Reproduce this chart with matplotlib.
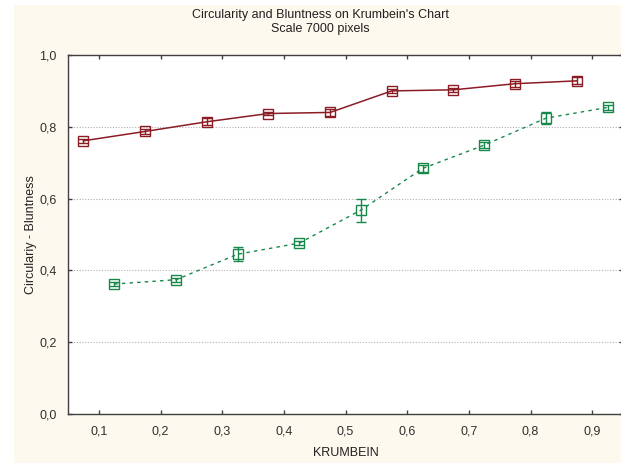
import matplotlib
matplotlib.use("Agg")
import matplotlib.pyplot as plt
from matplotlib.patches import Rectangle
from matplotlib.ticker import FuncFormatter

# ── Data ─────────────────────────────────────────────────────────────────────

circ_x = [0.075, 0.175, 0.275, 0.375, 0.475, 0.575, 0.675, 0.775, 0.875]
circ_y = [0.761, 0.787, 0.814, 0.837, 0.840, 0.900, 0.903, 0.920, 0.928]
circ_err = [0.005, 0.008, 0.010, 0.005, 0.010, 0.006, 0.005, 0.008, 0.010]

blunt_x = [0.125, 0.225, 0.325, 0.425, 0.525, 0.625, 0.725, 0.825, 0.925]
blunt_y = [0.362, 0.374, 0.445, 0.476, 0.568, 0.684, 0.749, 0.824, 0.854]
blunt_err = [0.005, 0.005, 0.019, 0.006, 0.032, 0.010, 0.008, 0.016, 0.006]

x_ticks = [0.1, 0.2, 0.3, 0.4, 0.5, 0.6, 0.7, 0.8, 0.9]
y_ticks = [0.0, 0.2, 0.4, 0.6, 0.8, 1.0]

RED = "#8c1c24"
GREEN = "#17884a"
CREAM = "#fef9ee"

plt.rcParams["font.family"] = ["Liberation Sans", "DejaVu Sans"]

fig = plt.figure(figsize=(6.21, 4.63), dpi=100)
fig.patch.set_facecolor("white")
fig.patches.append(Rectangle((14 / 621, 0), 1, 458 / 463, transform=fig.transFigure,
                             facecolor=CREAM, edgecolor="none", zorder=-10))

ax = fig.add_axes([68 / 621, 49 / 463, 555 / 621, 359 / 463])
ax.set_facecolor("white")

ax.errorbar(circ_x, circ_y, yerr=circ_err, color=RED, lw=1.1, ls="-",
            marker="s", ms=6.5, mfc="none", mec=RED, mew=1.0,
            capsize=3.5, elinewidth=1.0, capthick=1.0)
ax.errorbar(blunt_x, blunt_y, yerr=blunt_err, color=GREEN, lw=1.0, ls=(0, (2.5, 3)),
            marker="s", ms=6.5, mfc="none", mec=GREEN, mew=1.0,
            capsize=3.5, elinewidth=1.0, capthick=1.0)

ax.set_xlim(0.05, 0.95)
ax.set_ylim(0.0, 1.0)
ax.set_xticks(x_ticks)
ax.set_yticks(y_ticks)
comma = FuncFormatter(lambda v, _: f"{v:.1f}".replace(".", ","))
ax.xaxis.set_major_formatter(comma)
ax.yaxis.set_major_formatter(comma)

ax.tick_params(direction="in", length=3, width=1, colors="#404040",
               labelcolor="#303030", labelsize=9, top=True, right=True,
               labeltop=False, labelright=False)
ax.tick_params(axis="x", pad=8)
ax.tick_params(axis="y", pad=8)

for sp in ax.spines.values():
    sp.set_color("#404040")
    sp.set_linewidth(1.0)

# horizontal dotted grid at inner ticks only
for yv in y_ticks[1:-1]:
    ax.axhline(yv, color="#b0b0b0", lw=0.8, ls=(0, (1, 1.5)), zorder=0)

ax.set_xlabel("KRUMBEIN", fontsize=9, color="#202020", labelpad=7)
ax.set_ylabel("Circulariy - Bluntness", fontsize=9, color="#202020", labelpad=2)
fig.text(0.5 + 10 / 621, 1 - 15 / 463, "Circularity and Bluntness on Krumbein's Chart",
         ha="center", va="center", fontsize=9, color="#202020")
fig.text(0.5 + 10 / 621, 1 - 29 / 463, "Scale 7000 pixels",
         ha="center", va="center", fontsize=9, color="#202020")

fig.savefig("out.png", dpi=100, facecolor=fig.get_facecolor())
